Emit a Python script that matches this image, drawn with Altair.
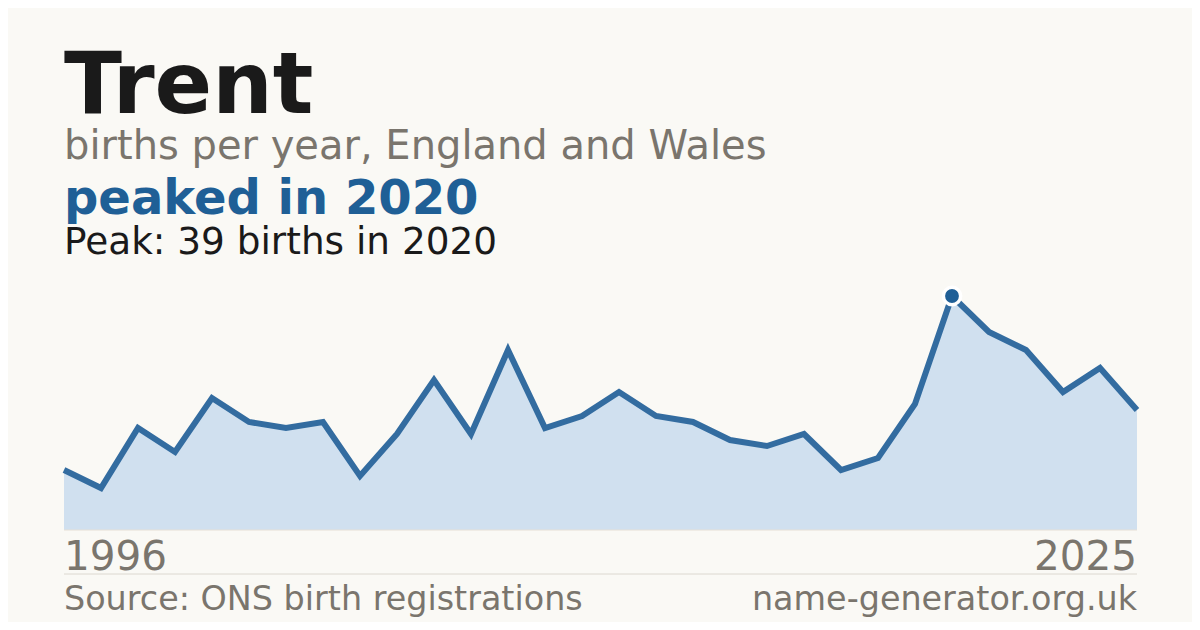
import altair as alt
import pandas as pd

years = list(range(1996, 2026))
births = [10, 7, 17, 13, 22, 18, 17, 18, 9, 16,
          25, 16, 30, 17, 19, 23, 19, 18, 15, 14,
          16, 10, 12, 21, 39, 33, 30, 23, 27, 20]

name = "Trent"
subtitle = "births per year, England and Wales"
headline = "peaked in 2020"
peak_note = "Peak: 39 births in 2020"
source = "Source: ONS birth registrations"
site = "name-generator.org.uk"

df = pd.DataFrame({"year": years, "births": births})
peak_df = df[df["births"] == df["births"].max()]

W, H = 1073, 234
FONT = "DejaVu Sans"
GRAY = "#7a756d"
BLUE = "#1f5f96"

x = alt.X("year:Q", scale=alt.Scale(domain=[1996, 2025], nice=False), axis=None)
y = alt.Y("births:Q", scale=alt.Scale(domain=[0, 39], nice=False), axis=None)

area = alt.Chart(df).mark_area(color="#d0e0ef", opacity=1).encode(x=x, y=y)
line = alt.Chart(df).mark_line(color="#336ca0", strokeWidth=6, strokeJoin="miter").encode(x=x, y=y)
peak = alt.Chart(peak_df).mark_point(
    filled=True, shape="circle", size=300, color=BLUE, stroke="white", strokeWidth=3.5, opacity=1
).encode(x=x, y=y)

base_rule = alt.Chart(pd.DataFrame({"v": [0]})).mark_rule(color="#e6e0d6", strokeWidth=1).encode(
    x=alt.value(0), x2=alt.value(W), y=alt.value(H)
)
sep_rule = alt.Chart(pd.DataFrame({"v": [0]})).mark_rule(color="#dcd8d0", strokeWidth=1).encode(
    x=alt.value(0), x2=alt.value(W), y=alt.value(H + 44)
)


def txt(t, yv, size, color, weight="normal", align="left", xv=0):
    return alt.Chart(pd.DataFrame({"t": [t]})).mark_text(
        align=align, baseline="alphabetic", font=FONT, fontSize=size,
        fontWeight=weight, color=color
    ).encode(text="t:N", x=alt.value(xv), y=alt.value(yv))


first_year = pd.DataFrame({"year": [years[0]], "lab": [str(years[0])]})
last_year = pd.DataFrame({"year": [years[-1]], "lab": [str(years[-1])]})
ylab_first = alt.Chart(first_year).mark_text(
    align="left", baseline="alphabetic", font=FONT, fontSize=40.5, color=GRAY
).encode(x=x, y=alt.value(H + 40), text="lab:N")
ylab_last = alt.Chart(last_year).mark_text(
    align="right", baseline="alphabetic", font=FONT, fontSize=40.5, color=GRAY
).encode(x=x, y=alt.value(H + 40), text="lab:N")

chart = alt.layer(
    area, base_rule, line, peak,
    ylab_first, ylab_last, sep_rule,
    txt(name, -183, 85, "#1a1a1a", "bold"),
    txt(subtitle, -137, 40, GRAY),
    txt(headline, -82, 48, BLUE, "bold"),
    txt(peak_note, -42, 37.4, "#1a1a1a"),
    txt(source, H + 80, 33.4, GRAY),
    txt(site, H + 80, 33.4, GRAY, align="right", xv=W),
).properties(
    width=W, height=H,
    padding={"left": 56, "top": 288, "right": 55, "bottom": 92},
    autosize=alt.AutoSizeParams(type="none"),
    background="#faf9f5",
).configure_view(stroke=None)

chart.save("out.html", embed_options={"renderer": "svg", "actions": False})
